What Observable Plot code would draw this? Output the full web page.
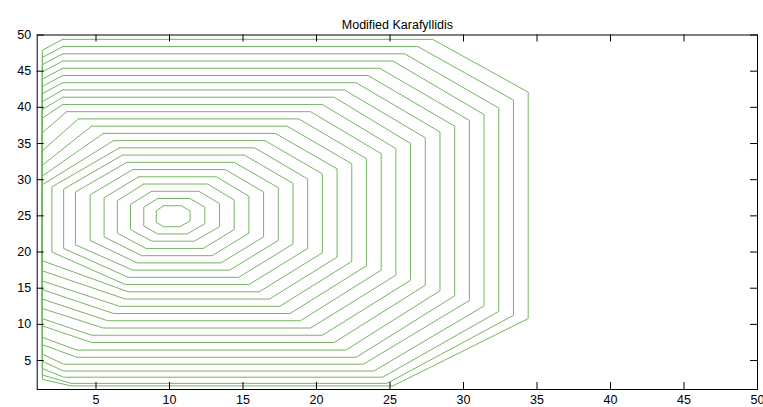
<!DOCTYPE html>
<html><head><meta charset="utf-8">
<script src="https://cdn.jsdelivr.net/npm/d3@7"></script>
<script src="https://cdn.jsdelivr.net/npm/@observablehq/plot@0.6"></script>
<style>body{margin:0;background:#fff}</style>
</head><body><div id="chart"></div>
<script>
// contour index (innermost = 1)
const level  = [1,2,3,4,5,6,7,8,9,10,11,12,13,14,15,16,17,18,19,20,21,22,23,24];
// top horizontal y, bottom horizontal y
const topY   = [26.4,27.4,28.4,29.4,30.4,31.4,32.4,33.4,34.4,35.4,36.4,37.4,38.4,39.4,40.4,41.4,42.4,43.4,44.4,45.4,46.4,47.4,48.4,49.4];
const botY   = [23.5,22.5,21.5,20.5,19.5,18.5,17.5,16.5,15.5,14.5,13.5,12.5,11.5,10.5,9.5,8.5,7.5,6.45,5.45,4.5,3.55,2.7,1.85,1.5];
// right vertical x, left vertical x (1.35 = runs along left wall)
const rightX = [11.4,12.4,13.4,14.4,15.4,16.4,17.4,18.4,19.4,20.4,21.4,22.4,23.4,24.4,25.4,26.4,27.4,28.4,29.4,30.4,31.4,32.4,33.4,34.4];
const leftX  = [9.1,8.25,7.35,6.45,5.55,4.6,3.6,2.8,2.0,1.35,1.35,1.35,1.35,1.35,1.35,1.35,1.35,1.35,1.35,1.35,1.35,1.35,1.35,1.35];
// top-right corner: end of top line (x), start of right line (y)
const trX    = [10.8,11.4,12.0,12.6,13.2,13.8,14.4,15.1,15.8,16.5,17.2,18.0,18.8,19.6,20.4,21.2,21.9,22.7,23.5,24.3,25.2,26.0,26.9,27.9];
const trY    = [25.7,26.2,26.7,27.2,27.7,28.3,28.9,29.5,30.1,30.8,31.5,32.2,32.9,33.6,34.3,35.0,35.8,36.6,37.4,38.2,39.0,39.9,41.0,42.1];
// bottom-right corner: end of right line (y), end of bottom line (x)
const brY    = [24.3,23.9,23.5,23.1,22.6,22.1,21.6,21.1,20.5,19.9,19.3,18.7,18.1,17.5,16.8,16.1,15.4,14.65,13.95,13.3,12.55,11.8,11.25,10.8];
const brX    = [10.7,11.2,11.7,12.3,12.9,13.5,14.1,14.7,15.4,16.1,16.8,17.5,18.2,18.9,19.6,20.4,21.2,22.0,22.7,23.2,23.9,24.5,24.8,25.2];
// top-left corner: start of top line (x), top of left line / wall (y)
const tlX    = [9.6,9.2,8.8,8.25,7.9,7.5,7.1,6.8,6.6,6.2,5.5,4.7,3.8,3.0,2.74,2.74,2.74,2.74,2.74,2.74,2.74,2.74,2.74,2.74];
const tlY    = [25.7,26.2,26.6,27.1,27.5,27.9,28.3,28.7,29.0,29.3,30.5,32.0,34.0,36.5,38.5,39.7,40.8,41.9,42.9,43.9,44.9,45.9,46.9,47.9];
// bottom-left corner: start of bottom line (x), bottom of left line / wall (y)
const blX    = [9.6,9.2,8.8,8.4,8.1,7.8,7.5,7.2,7.0,7.2,7.0,6.6,6.2,5.8,5.5,4.7,4.7,3.7,3.7,2.8,2.8,2.8,3.3,3.3];
const blY    = [24.1,23.6,23.1,22.6,22.1,21.6,21.0,20.5,20.0,18.8,17.4,16.0,14.8,13.5,12.2,10.8,9.8,8.2,7.2,5.9,4.9,3.9,3.0,2.4];

const xTicks = [5,10,15,20,25,30,35,40,45,50];
const yTicks = [5,10,15,20,25,30,35,40,45,50];
const title = "Modified Karafyllidis";

const rows = [];
level.forEach((k, i) => {
  const pts = [
    [tlX[i], topY[i]], [trX[i], topY[i]], [rightX[i], trY[i]], [rightX[i], brY[i]],
    [brX[i], botY[i]], [blX[i], botY[i]], [leftX[i], blY[i]], [leftX[i], tlY[i]], [tlX[i], topY[i]]
  ];
  pts.forEach(([x, y]) => rows.push({k, x, y}));
});

const W = 763, H = 407, mL = 36.7, mR = 6, mT = 34.5, mB = 18;
const fH = H - mT - mB, fW = W - mL - mR, tick = 7;
const font = "'Liberation Sans', Arial, sans-serif";

const chart = Plot.plot({
  width: W, height: H,
  marginLeft: mL, marginRight: mR, marginTop: mT, marginBottom: mB,
  style: {fontFamily: font, fontSize: "12.5px", background: "#fff", color: "#000"},
  x: {domain: [1, 50], label: null},
  y: {domain: [1, 50], label: null},
  marks: [
    Plot.line(rows, {x: "x", y: "y", z: "k", stroke: "#74b561", strokeWidth: 1, clip: true}),
    Plot.tickX(xTicks, {x: d => d, insetTop: fH - tick, stroke: "#000"}),
    Plot.tickX(xTicks, {x: d => d, insetBottom: fH - tick, stroke: "#000"}),
    Plot.tickY(yTicks, {y: d => d, insetRight: fW - tick, stroke: "#000"}),
    Plot.tickY(yTicks, {y: d => d, insetLeft: fW - tick, stroke: "#000"}),
    Plot.frame({stroke: "#000"}),
    Plot.axisX(xTicks, {anchor: "bottom", tickSize: 0, tickPadding: 6, fontSize: 12.5, label: null}),
    Plot.axisY(yTicks, {anchor: "left", tickSize: 0, tickPadding: 6, fontSize: 12.5, label: null}),
    Plot.text([title], {frameAnchor: "top", dy: -15, fontSize: 12.5, fill: "#000"})
  ]
});
document.getElementById("chart").appendChild(chart);
</script>
</body></html>
